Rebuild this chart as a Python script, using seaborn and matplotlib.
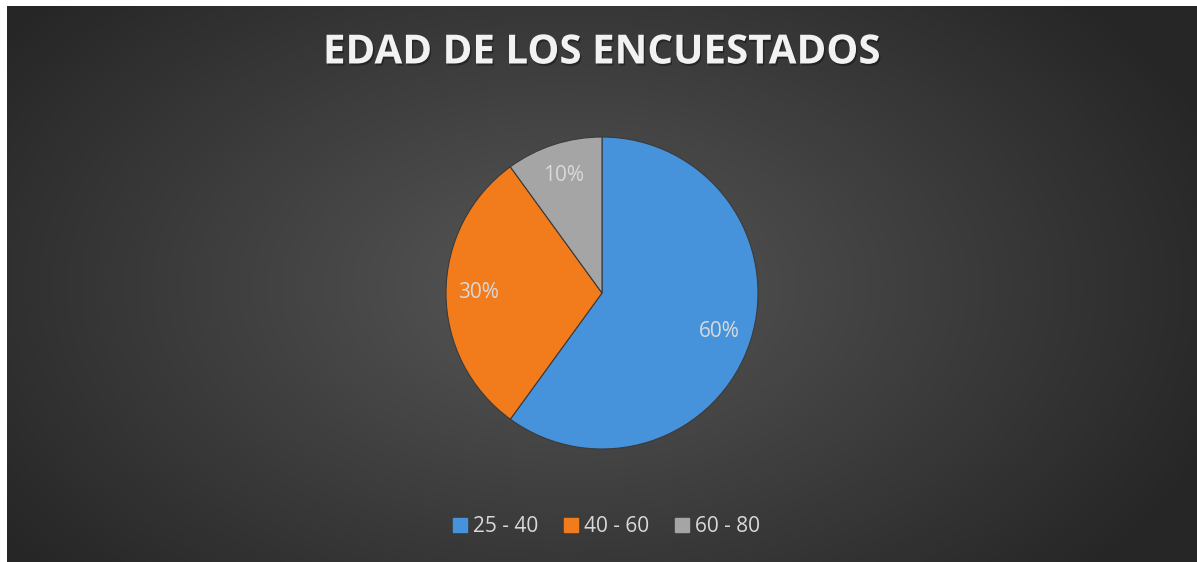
import numpy as np
import matplotlib
matplotlib.use("Agg")
import matplotlib.pyplot as plt
import seaborn as sns
from matplotlib.lines import Line2D
import matplotlib.patheffects as pe

categories = ["25 - 40", "40 - 60", "60 - 80"]
values = [60, 30, 10]
colors = ["#4693DC", "#F27B1C", "#A5A5A5"]
title = "EDAD DE LOS ENCUESTADOS"

sns.set_theme(style="white")
plt.rcParams["font.family"] = ["Open Sans", "DejaVu Sans"]

W, H = 1197, 562
fig = plt.figure(figsize=(W / 100, H / 100), dpi=100, facecolor="white")

# background with radial gradient
x0, y0 = 7, 6
bg = fig.add_axes([x0 / W, 0, (W - x0) / W, (H - y0) / H])
bw, bh = W - x0, H - y0
yy, xx = np.mgrid[0:bh, 0:bw]
cx, cy = 560, 280
d = np.sqrt(((xx - cx) / 700) ** 2 + ((yy - cy) / 430) ** 2)
d = np.clip(d, 0, 1)
lum = 0x57 / 255 * (1 - d) + 0x26 / 255 * d
img = np.dstack([lum, lum, lum])
bg.imshow(img, aspect="auto", interpolation="bilinear")
bg.set_axis_off()

# pie axes
pcx, pcy, r = 602, 293, 156
ax = fig.add_axes([(pcx - r) / W, (H - pcy - r) / H, 2 * r / W, 2 * r / H])
wedges, texts, autotexts = ax.pie(
    values,
    colors=colors,
    startangle=90,
    counterclock=False,
    autopct="%1.0f%%",
    pctdistance=0.79,
    radius=1,
    wedgeprops=dict(edgecolor="#3a3a3a", linewidth=0.8),
    textprops=dict(color="#D9D9D9", fontsize=15),
)
ax.set_xlim(-1, 1)
ax.set_ylim(-1, 1)
ax.set_aspect("equal")
ax.set_axis_off()

fig.text(602 / W, 1 - 53 / H, title, ha="center", va="center",
         fontsize=29, fontweight="bold", color="#F2F2F2",
         path_effects=[pe.withSimplePatchShadow(offset=(1, -1.5), shadow_rgbFace="black", alpha=0.35)])

handles = [Line2D([0], [0], marker="s", linestyle="", markersize=10,
                  markerfacecolor=c, markeredgecolor=c) for c in colors]
leg = fig.legend(handles, categories, loc="center", bbox_to_anchor=(606 / W, 1 - 527 / H),
                 ncol=3, frameon=False, fontsize=15, labelcolor="#D9D9D9",
                 handlelength=0.8, handletextpad=0.2, columnspacing=1.2)

fig.savefig("out.png", dpi=100, facecolor="white")
